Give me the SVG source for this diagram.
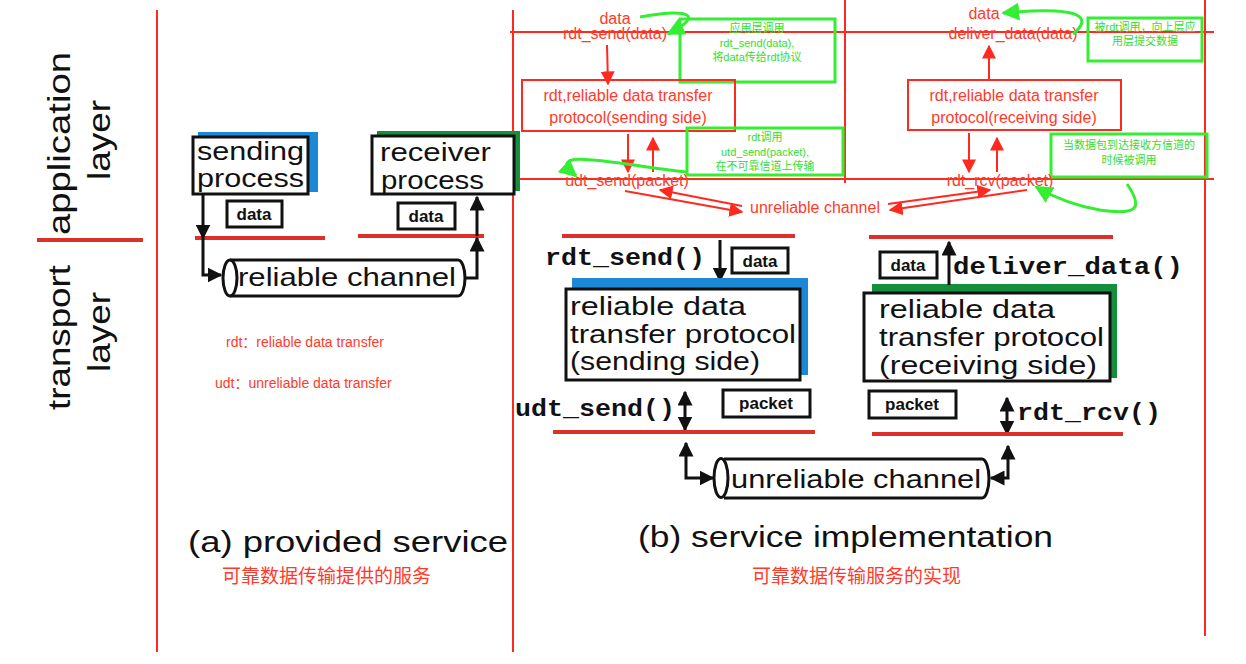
<svg xmlns="http://www.w3.org/2000/svg" width="1246" height="664" viewBox="0 0 1246 664">
<style>
.r{stroke:#ff2a1f;stroke-width:2;fill:none}
.rl{stroke:#dd3028;stroke-width:4}
.k{stroke:#111;stroke-width:3;fill:none}
.bx{fill:#fff;stroke:#111;stroke-width:3}
.g{stroke:#33ee33;stroke-width:3;fill:none}
.t{font-family:"Liberation Sans",sans-serif}
.rt{font-family:"Liberation Sans","Noto Sans CJK SC",sans-serif;fill:#ff3a2a}
.gt{font-family:"Liberation Sans","Noto Sans CJK SC",sans-serif;fill:#33dd33;font-size:11px;text-anchor:middle}
.m{font-family:"Liberation Mono",monospace;font-weight:bold;font-size:23px;fill:#111}
.b{font-family:"Liberation Sans",sans-serif;font-weight:bold;font-size:17px;fill:#111;text-anchor:middle}
</style>
<defs>
<marker id="ar" viewBox="0 0 10 10" refX="9" refY="5" markerWidth="7" markerHeight="7" orient="auto-start-reverse"><path d="M0,0L10,5L0,10z" fill="#ff2a1f"/></marker>
<marker id="ak" viewBox="0 0 10 10" refX="9" refY="5" markerWidth="5" markerHeight="5" orient="auto-start-reverse"><path d="M0,0L10,5L0,10z" fill="#111"/></marker>
<marker id="ag" viewBox="0 0 10 10" refX="9" refY="5" markerWidth="6" markerHeight="6" orient="auto"><path d="M0,0L10,5L0,10z" fill="#33ee33"/></marker>
</defs>
<rect width="1246" height="664" fill="#fff"/>
<g id="frame">
<line x1="157" y1="10" x2="157" y2="652" class="r" stroke-width="3"/>
<line x1="513" y1="10" x2="513" y2="652" class="r" stroke-width="3"/>
<line x1="845" y1="0" x2="845" y2="183" class="r"/>
<line x1="1205" y1="0" x2="1205" y2="636" class="r" stroke-width="3"/>
<line x1="510" y1="32" x2="1214" y2="32" class="r"/>
<line x1="515" y1="179" x2="1214" y2="179" class="r"/>
<line x1="37" y1="240" x2="143" y2="240" class="rl"/>
<text class="t" font-size="32" fill="#111" transform="translate(70,235) rotate(-90)" textLength="183" lengthAdjust="spacingAndGlyphs">application</text>
<text class="t" font-size="32" fill="#111" transform="translate(110,180) rotate(-90)" textLength="80" lengthAdjust="spacingAndGlyphs">layer</text>
<text class="t" font-size="32" fill="#111" transform="translate(70,410) rotate(-90)" textLength="145" lengthAdjust="spacingAndGlyphs">transport</text>
<text class="t" font-size="32" fill="#111" transform="translate(110,372) rotate(-90)" textLength="80" lengthAdjust="spacingAndGlyphs">layer</text>
</g>
<g id="left">
<rect x="198" y="132" width="120" height="60" fill="#1e88d8"/>
<rect x="193" y="137" width="115" height="57" class="bx"/>
<text class="t" font-size="25" fill="#111" x="197" y="160" textLength="107" lengthAdjust="spacingAndGlyphs">sending</text>
<text class="t" font-size="25" fill="#111" x="197" y="187" textLength="107" lengthAdjust="spacingAndGlyphs">process</text>
<rect x="377" y="131" width="143" height="60" fill="#148f3c"/>
<rect x="372" y="136" width="142" height="58" class="bx"/>
<text class="t" font-size="25" fill="#111" x="380" y="161" textLength="111" lengthAdjust="spacingAndGlyphs">receiver</text>
<text class="t" font-size="25" fill="#111" x="381" y="189" textLength="103" lengthAdjust="spacingAndGlyphs">process</text>
<rect x="227" y="201" width="55" height="26" class="bx"/><text class="b" x="254" y="220">data</text>
<rect x="398" y="203" width="57" height="26" class="bx"/><text class="b" x="426" y="222">data</text>
<line x1="195" y1="238" x2="325" y2="238" class="rl"/>
<line x1="358" y1="236" x2="484" y2="236" class="rl"/>
<path d="M203,194V238" class="k" marker-end="url(#ak)"/>
<path d="M203,238V275H221" class="k" marker-end="url(#ak)"/>
<path d="M465,278H477V238" class="k" marker-end="url(#ak)"/>
<path d="M477,236V197" class="k" marker-end="url(#ak)"/>
<path d="M230,260H458A7,18 0 0 1 458,296H230" class="k" fill="#fff"/>
<ellipse cx="230" cy="278" rx="7" ry="18" class="k" fill="#fff"/>
<text class="t" font-size="26" fill="#111" x="238" y="286" textLength="218" lengthAdjust="spacingAndGlyphs">reliable channel</text>
<text class="rt" font-size="14" x="226" y="347">rdt：reliable data transfer</text>
<text class="rt" font-size="14" x="215" y="388">udt：unreliable data transfer</text>
<text class="t" font-size="29" fill="#111" x="188" y="552" textLength="320" lengthAdjust="spacingAndGlyphs">(a)  provided service</text>
<text class="rt" font-size="19" x="222" y="583">可靠数据传输提供的服务</text>
</g>
<g id="right">
<line x1="562" y1="236" x2="795" y2="236" class="rl"/>
<line x1="869" y1="237" x2="1113" y2="237" class="rl"/>
<text class="m" x="545" y="265" textLength="160" lengthAdjust="spacingAndGlyphs">rdt_send()</text>
<path d="M720,240V281" class="k" marker-end="url(#ak)"/>
<rect x="732" y="248" width="56" height="25" class="bx"/><text class="b" x="760" y="267">data</text>
<rect x="572" y="278" width="236" height="97" fill="#1e88d8"/>
<rect x="566" y="289" width="234" height="91" class="bx"/>
<text class="t" font-size="25" fill="#111" x="570" y="315" textLength="176" lengthAdjust="spacingAndGlyphs">reliable data</text>
<text class="t" font-size="25" fill="#111" x="570" y="343" textLength="226" lengthAdjust="spacingAndGlyphs">transfer protocol</text>
<text class="t" font-size="25" fill="#111" x="570" y="370" textLength="190" lengthAdjust="spacingAndGlyphs">(sending side)</text>
<text class="m" x="515" y="416" textLength="160" lengthAdjust="spacingAndGlyphs">udt_send()</text>
<path d="M685,392V430" class="k" marker-start="url(#ak)" marker-end="url(#ak)"/>
<rect x="723" y="390" width="87" height="27" class="bx"/><text class="b" x="766" y="409">packet</text>
<line x1="553" y1="432" x2="815" y2="432" class="rl"/>
<rect x="872" y="284" width="245" height="94" fill="#148f3c"/>
<rect x="864" y="293" width="246" height="88" class="bx"/>
<text class="t" font-size="25" fill="#111" x="879" y="318" textLength="176" lengthAdjust="spacingAndGlyphs">reliable data</text>
<text class="t" font-size="25" fill="#111" x="879" y="346" textLength="225" lengthAdjust="spacingAndGlyphs">transfer protocol</text>
<text class="t" font-size="25" fill="#111" x="879" y="374" textLength="218" lengthAdjust="spacingAndGlyphs">(receiving side)</text>
<rect x="880" y="252" width="57" height="26" class="bx"/><text class="b" x="908" y="271">data</text>
<path d="M949,285V242" class="k" marker-end="url(#ak)"/>
<text class="m" x="953" y="274" textLength="230" lengthAdjust="spacingAndGlyphs">deliver_data()</text>
<rect x="869" y="391" width="87" height="27" class="bx"/><text class="b" x="912" y="410">packet</text>
<path d="M1007,398V434" class="k" marker-start="url(#ak)" marker-end="url(#ak)"/>
<text class="m" x="1017" y="420" textLength="144" lengthAdjust="spacingAndGlyphs">rdt_rcv()</text>
<line x1="872" y1="434" x2="1123" y2="434" class="rl"/>
<path d="M724,459H982A7,19.5 0 0 1 982,498H724" class="k" fill="#fff"/>
<ellipse cx="721" cy="478" rx="7" ry="19.5" class="k" fill="#fff"/>
<text class="t" font-size="26" fill="#111" x="731" y="488" textLength="250" lengthAdjust="spacingAndGlyphs">unreliable channel</text>
<path d="M713,478H686V443" class="k" marker-start="url(#ak)" marker-end="url(#ak)"/>
<path d="M991,478H1008V446" class="k" marker-start="url(#ak)" marker-end="url(#ak)"/>
<text class="t" font-size="29" fill="#111" x="638" y="547" textLength="415" lengthAdjust="spacingAndGlyphs">(b) service implementation</text>
<text class="rt" font-size="19" x="752" y="583">可靠数据传输服务的实现</text>
</g>
<g id="annot">
<text class="rt" font-size="16" x="615" y="24" text-anchor="middle">data</text>
<text class="rt" font-size="16" x="615" y="39" text-anchor="middle">rdt_send(data)</text>
<path d="M640,17C690,8 705,15 668,34" class="g" marker-end="url(#ag)"/>
<rect x="680" y="19" width="155" height="63" class="g"/>
<text class="gt" x="757" y="32">应用层调用</text>
<text class="gt" x="757" y="47">rdt_send(data),</text>
<text class="gt" x="757" y="61">将data传给rdt协议</text>
<path d="M607,45L608,84" class="r" marker-end="url(#ar)"/>
<rect x="522" y="80" width="213" height="51" class="r"/>
<text class="rt" font-size="16" x="628" y="101" text-anchor="middle">rdt,reliable data transfer</text>
<text class="rt" font-size="16" x="628" y="123" text-anchor="middle">protocol(sending side)</text>
<path d="M628,134V172" class="r" marker-end="url(#ar)"/>
<path d="M653,172V138" class="r" marker-end="url(#ar)"/>
<rect x="687" y="128" width="156" height="47" class="g"/>
<text class="gt" x="765" y="141">rdt调用</text>
<text class="gt" x="765" y="156">utd_send(packet),</text>
<text class="gt" x="765" y="170">在不可靠信道上传输</text>
<path d="M686,172C620,165 540,145 576,176" class="g" marker-end="url(#ag)"/>
<text class="rt" font-size="16" x="627" y="186" text-anchor="middle">udt_send(packet)</text>
<path d="M625,191L742,212" class="r" marker-end="url(#ar)"/>
<path d="M742,206L660,190" class="r" marker-end="url(#ar)"/>
<text class="rt" font-size="16" x="815" y="213" text-anchor="middle">unreliable channel</text>
<text class="rt" font-size="16" x="984" y="19" text-anchor="middle">data</text>
<text class="rt" font-size="16" x="1013" y="39" text-anchor="middle">deliver_data(data)</text>
<path d="M1073,34C1090,20 1090,5 1003,13" class="g" marker-end="url(#ag)"/>
<rect x="1088" y="18" width="114" height="43" class="g"/>
<text class="gt" x="1145" y="31">被rdt调用，向上层应</text>
<text class="gt" x="1145" y="45">用层提交数据</text>
<path d="M989,80V46" class="r" marker-end="url(#ar)"/>
<rect x="908" y="80" width="213" height="50" class="r"/>
<text class="rt" font-size="16" x="1014" y="101" text-anchor="middle">rdt,reliable data transfer</text>
<text class="rt" font-size="16" x="1014" y="123" text-anchor="middle">protocol(receiving side)</text>
<path d="M969,133V172" class="r" marker-end="url(#ar)"/>
<path d="M997,172V138" class="r" marker-end="url(#ar)"/>
<rect x="1051" y="134" width="156" height="43" class="g"/>
<text class="gt" x="1129" y="149">当数据包到达接收方信道的</text>
<text class="gt" x="1129" y="164">时候被调用</text>
<text class="rt" font-size="16" x="1000" y="186" text-anchor="middle">rdt_rcv(packet)</text>
<path d="M1027,190L890,210" class="r" marker-end="url(#ar)"/>
<path d="M888,204L990,190" class="r" marker-end="url(#ar)"/>
<path d="M1127,184C1145,210 1135,215 1100,210C1070,205 1050,195 1036,187" class="g" marker-end="url(#ag)"/>
</g>
</svg>
